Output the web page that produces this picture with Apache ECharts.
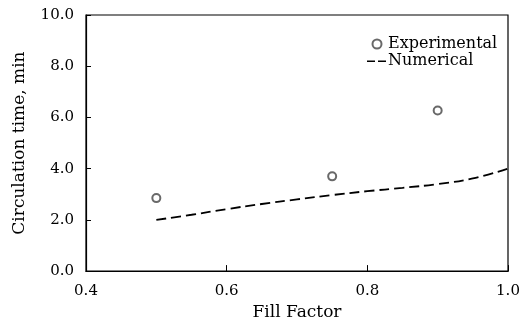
<!DOCTYPE html>
<html>
<head>
<meta charset="utf-8">
<script src="https://cdn.jsdelivr.net/npm/echarts@6/dist/echarts.min.js"></script>
<style>
  html, body { margin: 0; padding: 0; background: #fff; }
  #chart { width: 524px; height: 326px; }
</style>
</head>
<body>
<div id="chart"></div>
<script>
// experimental points (fill factor, circulation time in min)
var expX = [0.5, 0.75, 0.9];
var expY = [2.85, 3.7, 6.27];

// numerical curve
var numX = [0.5, 0.55, 0.6, 0.65, 0.7, 0.75, 0.8, 0.85, 0.9, 0.95, 1.0];
var numY = [2.0, 2.2, 2.42, 2.62, 2.8, 2.97, 3.12, 3.25, 3.4, 3.62, 4.0];

var FONT = 'DejaVu Serif';

var chart = echarts.init(document.getElementById('chart'));

var expData = expX.map(function (x, i) { return [x, expY[i]]; });
var numData = numX.map(function (x, i) { return [x, numY[i]]; });

// two short dashes for the legend (tiny corner dots keep the box size)
var dashIcon = 'path://M0,4h8v1.6h-8z M11,4h8v1.6h-8z M0,0h0.05v0.05h-0.05z M19.95,8.95h0.05v0.05h-0.05z';

var option = {
  backgroundColor: '#fff',
  animation: false,
  grid: {
    left: 86, right: 16, top: 15, bottom: 49,
    show: true, borderColor: '#000', borderWidth: 1.2
  },
  legend: {
    orient: 'vertical',
    left: 362, top: 31,
    itemWidth: 20, itemHeight: 9, itemGap: 1,
    textStyle: { fontFamily: FONT, fontSize: 16, color: '#000', padding: [0, 0, 0, -4] },
    data: [
      { name: 'Experimental' },
      { name: 'Numerical', icon: dashIcon, itemStyle: { color: '#000', borderWidth: 0 } }
    ]
  },
  xAxis: {
    type: 'value',
    min: 0.4, max: 1.0, interval: 0.2,
    name: 'Fill Factor',
    nameLocation: 'middle', nameGap: 32,
    nameTextStyle: { fontFamily: FONT, fontSize: 17, color: '#000' },
    axisLine: { lineStyle: { color: '#000', width: 1.2 } },
    axisTick: { inside: true, length: 6, lineStyle: { color: '#000' } },
    splitLine: { show: false },
    axisLabel: {
      fontFamily: FONT, fontSize: 15, color: '#000', margin: 13,
      formatter: function (v) { return v.toFixed(1); }
    }
  },
  yAxis: {
    type: 'value',
    min: 0, max: 10, interval: 2,
    name: 'Circulation time, min',
    nameLocation: 'middle', nameGap: 58,
    nameTextStyle: { fontFamily: FONT, fontSize: 17, color: '#000' },
    axisLine: { show: true, lineStyle: { color: '#000', width: 1.2 } },
    axisTick: { show: true, inside: true, length: 5, lineStyle: { color: '#000' } },
    splitLine: { show: false },
    axisLabel: {
      fontFamily: FONT, fontSize: 15, color: '#000', margin: 12,
      formatter: function (v) { return v.toFixed(1); }
    }
  },
  series: [
    {
      name: 'Experimental',
      type: 'scatter',
      symbol: 'emptyCircle',
      symbolSize: 8,
      itemStyle: { color: '#444', borderColor: '#444', borderWidth: 0.8 },
      data: expData
    },
    {
      name: 'Numerical',
      type: 'line',
      symbol: 'none',
      smooth: true,
      itemStyle: { color: '#000' },
      lineStyle: { color: '#000', width: 1.8, type: [10, 5] },
      data: numData
    }
  ]
};

chart.setOption(option);
</script>
</body>
</html>
